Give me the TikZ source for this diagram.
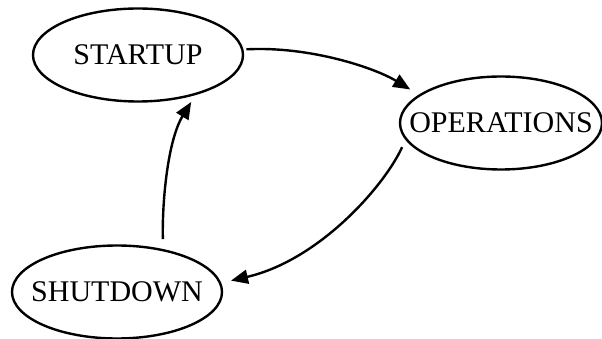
\documentclass[tikz,border=0pt]{standalone}
\usepackage{fontspec}
\setmainfont{Liberation Serif}
\usetikzlibrary{shapes.geometric,arrows.meta}
\tikzset{
  state/.style={ellipse, draw, line width=2.4pt, inner sep=0pt,
    minimum width=210pt, minimum height=93pt,
    font=\fontsize{30}{35}\selectfont},
  edge/.style={line width=2.4pt, -{Triangle[length=17pt,width=14pt]}},
}
\newcommand{\statelabel}[1]{\makebox[0pt]{#1}}
\begin{document}
\begin{tikzpicture}[x=1pt,y=-1pt]
\useasboundingbox (0,0) rectangle (602,339);
\node[state] (start) at (138,55) {\statelabel{STARTUP}};
\node[state, minimum width=202pt] (ops) at (501,123) {\statelabel{OPERATIONS}};
\node[state] (shut) at (117,292) {\statelabel{SHUTDOWN}};
\draw[edge, shorten <=3pt, shorten >=10pt] (start.3) .. controls (310,46) and (375,68) .. (ops.161);
\draw[edge, shorten <=8pt, shorten >=10pt] (ops.190) .. controls (385,185) and (320,260) .. (shut.5);
\draw[edge, shorten <=10pt, shorten >=8pt] (shut.43) .. controls (162,200) and (168,140) .. (start.-35);
\end{tikzpicture}
\end{document}
